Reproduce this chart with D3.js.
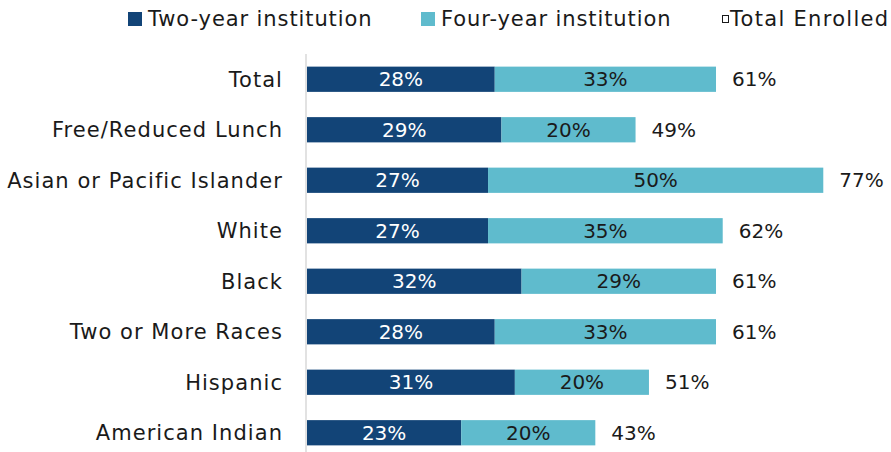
<!DOCTYPE html>
<html>
<head>
<meta charset="utf-8">
<script src="https://cdn.jsdelivr.net/npm/d3@7"></script>
<style>
  body { margin: 0; background: #fff; }
  text { font-family: "DejaVu Sans", sans-serif; }
  .wide { letter-spacing: 1.05px; }
  .leg { letter-spacing: 0.9px; }
</style>
</head>
<body>
<div id="chart"></div>
<script>
// data
const categories = ["Total", "Free/Reduced Lunch", "Asian or Pacific Islander", "White",
  "Black", "Two or More Races", "Hispanic", "American Indian"];
const twoYear  = [28, 29, 27, 27, 32, 28, 31, 23];
const fourYear = [33, 20, 50, 35, 29, 33, 20, 20];
const totalEnrolled = [61, 49, 77, 62, 61, 61, 51, 43];

const W = 891, H = 452;
const darkBlue = "#124477", lightBlue = "#5fbbcd";

let svg = d3.select("#chart").append("svg")
  .attr("width", W).attr("height", H);

let rows = categories.map((c, i) => ({
  cat: c, two: twoYear[i], four: fourYear[i], total: totalEnrolled[i]
}));

let x = d3.scaleLinear().domain([0, 100]).range([307, 307 + 670.5]);
let y = d3.scaleBand().domain(categories).range([54, 458])
  .paddingInner(0.5).paddingOuter(0.25);

// axis line
svg.append("line")
  .attr("x1", 306).attr("x2", 306)
  .attr("y1", 54).attr("y2", H)
  .attr("stroke", "#d9d9d9").attr("stroke-width", 1.5);

// category labels
svg.selectAll(".cat").data(rows).enter()
  .append("text").attr("class", "cat wide")
  .attr("x", 283)
  .attr("y", d => y(d.cat) + y.bandwidth() / 2)
  .attr("dy", "0.35em")
  .attr("text-anchor", "end")
  .attr("font-size", 21)
  .attr("fill", "#1a1a1a")
  .text(d => d.cat);

// two-year bars
svg.selectAll(".two").data(rows).enter()
  .append("rect").attr("class", "two")
  .attr("x", x(0))
  .attr("y", d => y(d.cat))
  .attr("width", d => x(d.two) - x(0))
  .attr("height", y.bandwidth())
  .attr("fill", darkBlue);

// four-year bars
svg.selectAll(".four").data(rows).enter()
  .append("rect").attr("class", "four")
  .attr("x", d => x(d.two))
  .attr("y", d => y(d.cat))
  .attr("width", d => x(d.two + d.four) - x(d.two))
  .attr("height", y.bandwidth())
  .attr("fill", lightBlue);

// labels inside bars
svg.selectAll(".twoLbl").data(rows).enter()
  .append("text")
  .attr("x", d => (x(0) + x(d.two)) / 2)
  .attr("y", d => y(d.cat) + y.bandwidth() / 2)
  .attr("dy", "0.35em")
  .attr("text-anchor", "middle")
  .attr("font-size", 20)
  .attr("fill", "#fff")
  .text(d => d.two + "%");

svg.selectAll(".fourLbl").data(rows).enter()
  .append("text")
  .attr("x", d => (x(d.two) + x(d.two + d.four)) / 2)
  .attr("y", d => y(d.cat) + y.bandwidth() / 2)
  .attr("dy", "0.35em")
  .attr("text-anchor", "middle")
  .attr("font-size", 20)
  .attr("fill", "#1a1a1a")
  .text(d => d.four + "%");

// total enrolled labels
svg.selectAll(".totLbl").data(rows).enter()
  .append("text")
  .attr("x", d => x(d.two + d.four) + 16)
  .attr("y", d => y(d.cat) + y.bandwidth() / 2)
  .attr("dy", "0.35em")
  .attr("font-size", 20)
  .attr("fill", "#1a1a1a")
  .text(d => d.total + "%");

// legend
let legend = svg.append("g");
legend.append("rect").attr("x", 128).attr("y", 12).attr("width", 14).attr("height", 14).attr("fill", darkBlue);
legend.append("text").attr("class", "leg").attr("x", 148).attr("y", 19).attr("dy", "0.35em")
  .attr("font-size", 21).attr("fill", "#1a1a1a").text("Two-year institution");
legend.append("rect").attr("x", 421).attr("y", 12).attr("width", 14).attr("height", 14).attr("fill", lightBlue);
legend.append("text").attr("class", "leg").attr("x", 441).attr("y", 19).attr("dy", "0.35em")
  .attr("font-size", 21).attr("fill", "#1a1a1a").text("Four-year institution");
legend.append("rect").attr("x", 722.5).attr("y", 15.5).attr("width", 6).attr("height", 7)
  .attr("fill", "none").attr("stroke", "#1a1a1a").attr("stroke-width", 1);
legend.append("text").attr("class", "leg").attr("x", 730).attr("y", 19).attr("dy", "0.35em")
  .attr("font-size", 21).attr("fill", "#1a1a1a").style("letter-spacing", "1.3px").text("Total Enrolled");
</script>
</body>
</html>
